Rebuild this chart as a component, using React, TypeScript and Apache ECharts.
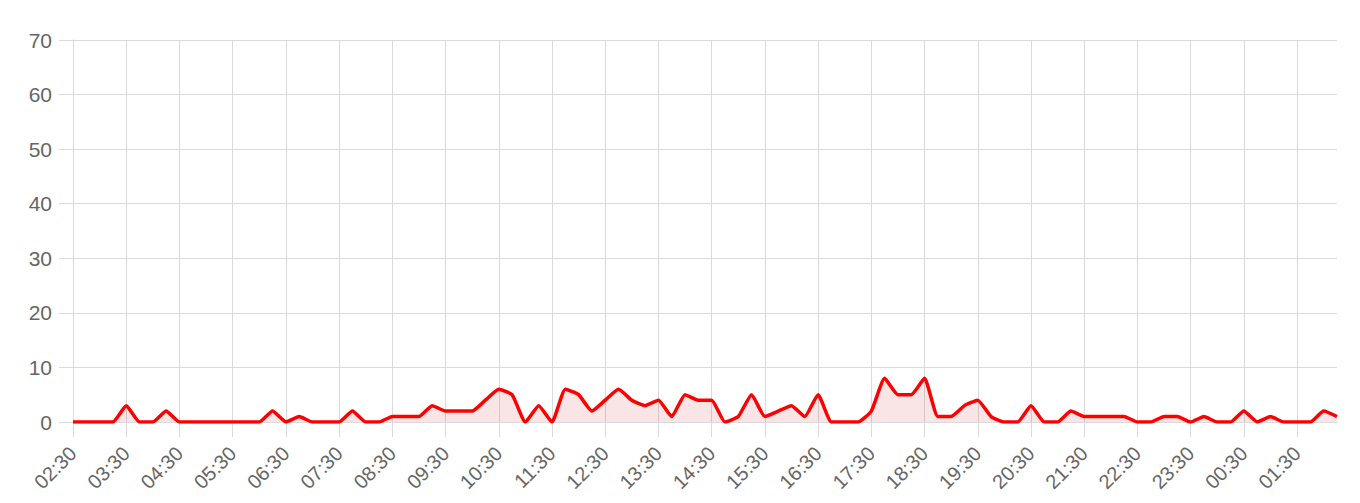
import { useRef, useEffect } from "react"
import * as echarts from "echarts"

// 15-minute buckets starting at 02:30, one day long
const startHour = 2
const startMinute = 30
const times: string[] = []
for (let i = 0; i < 96; i++) {
  const total = startHour * 60 + startMinute + i * 15
  const h = Math.floor(total / 60) % 24
  const m = total % 60
  times.push(`${String(h).padStart(2, "0")}:${String(m).padStart(2, "0")}`)
}

const counts = [
  0, 0, 0, 0, 3, 0, 0, 2,
  0, 0, 0, 0, 0, 0, 0, 2,
  0, 1, 0, 0, 0, 2, 0, 0,
  1, 1, 1, 3, 2, 2, 2, 4,
  6, 5, 0, 3, 0, 6, 5, 2,
  4, 6, 4, 3, 4, 1, 5, 4,
  4, 0, 1, 5, 1, 2, 3, 1,
  5, 0, 0, 0, 2, 8, 5, 5,
  8, 1, 1, 3, 4, 1, 0, 0,
  3, 0, 0, 2, 1, 1, 1, 1,
  0, 0, 1, 1, 0, 1, 0, 0,
  2, 0, 1, 0, 0, 0, 2, 1,
]

const yMin = 0
const yMax = 70
const yStep = 10

const gridColor = "#dadada"
const labelColor = "#666666"
const fontFamily = "'Liberation Sans', Arial, Helvetica, sans-serif"

export default function App() {
  const chartRef = useRef<HTMLDivElement>(null)

  useEffect(() => {
    if (!chartRef.current) return
    document.body.style.margin = "0"

    const instance = echarts.init(chartRef.current, undefined, { renderer: "svg" })

    instance.setOption({
      animation: false,
      grid: { left: 73, right: 23, top: 40, bottom: 81 },
      xAxis: {
        type: "category",
        data: times,
        boundaryGap: false,
        axisLine: { lineStyle: { color: gridColor, width: 1 } },
        axisTick: { show: true, interval: 3, length: 15, lineStyle: { color: gridColor } },
        splitLine: { show: true, interval: 3, lineStyle: { color: gridColor, width: 1 } },
        axisLabel: {
          interval: 3,
          rotate: 45,
          margin: 28,
          color: labelColor,
          fontSize: 20,
          fontFamily,
        },
      },
      yAxis: {
        type: "value",
        min: yMin,
        max: yMax,
        interval: yStep,
        axisLine: { show: true, lineStyle: { color: gridColor, width: 1 } },
        axisTick: { show: true, length: 14, lineStyle: { color: gridColor } },
        splitLine: { show: true, lineStyle: { color: gridColor, width: 1 } },
        axisLabel: {
          margin: 21,
          color: labelColor,
          fontSize: 21,
          fontFamily,
        },
      },
      series: [
        {
          type: "line",
          data: counts,
          smooth: 0.15,
          showSymbol: false,
          lineStyle: { color: "#ff0000", width: 3.5 },
          itemStyle: { color: "#ff0000" },
          areaStyle: { color: "rgba(210, 30, 45, 0.17)" },
        },
      ],
    })

    return () => {
      instance.dispose()
    }
  }, [])

  return <div ref={chartRef} style={{ width: 1360, height: 503 }} />
}
